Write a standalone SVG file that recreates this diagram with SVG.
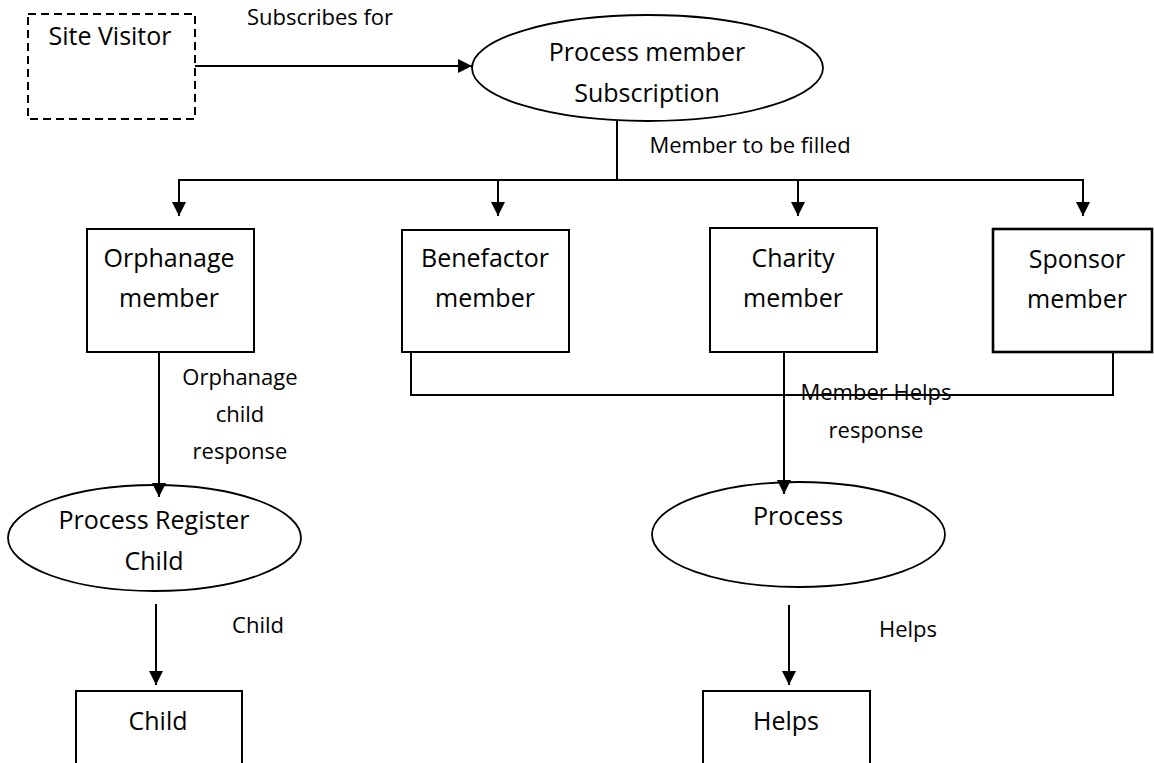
<svg xmlns="http://www.w3.org/2000/svg" width="1154" height="763" viewBox="0 0 1154 763">
<defs>
<style>
.box{fill:#fff;stroke:#000;stroke-width:2}
.dash{fill:#fff;stroke:#000;stroke-width:2;stroke-dasharray:8,5}
.ell{fill:#fff;stroke:#000;stroke-width:1.8}
.ln{fill:none;stroke:#000;stroke-width:2}
.nt{font-family:"Open Sans",sans-serif;font-size:25px;fill:#000;text-anchor:middle}
.lt{font-family:"Open Sans",sans-serif;font-size:22px;fill:#000;text-anchor:middle}
</style>
<marker id="ah" viewBox="0 0 14 14" refX="14" refY="7" markerWidth="14" markerHeight="14" markerUnits="userSpaceOnUse" orient="auto">
<path d="M0,0 L14,7 L0,14 z" fill="#000"/>
</marker>
</defs>
<rect width="1154" height="763" fill="#fff"/>
<g id="site-visitor">
<rect class="dash" x="28" y="14" width="167" height="105"/>
<text class="nt" x="110" y="45">Site Visitor</text>
</g>
<g id="process-member-subscription">
<ellipse class="ell" cx="647.5" cy="68" rx="175.5" ry="53"/>
<text class="nt" x="647" y="61">Process member</text>
<text class="nt" x="647" y="102">Subscription</text>
</g>
<g id="orphanage-member">
<rect class="box" x="87" y="229" width="167" height="123"/>
<text class="nt" x="169" y="267">Orphanage</text>
<text class="nt" x="169" y="307">member</text>
</g>
<g id="benefactor-member">
<rect class="box" x="402" y="230" width="167" height="122"/>
<text class="nt" x="485" y="267">Benefactor</text>
<text class="nt" x="485" y="307">member</text>
</g>
<g id="charity-member">
<rect class="box" x="710" y="228" width="167" height="124"/>
<text class="nt" x="793" y="267">Charity</text>
<text class="nt" x="793" y="307">member</text>
</g>
<g id="sponsor-member">
<rect class="box" x="993" y="229" width="159" height="123" style="stroke-width:2.6"/>
<text class="nt" x="1077" y="268">Sponsor</text>
<text class="nt" x="1077" y="308">member</text>
</g>
<g id="process-register-child">
<ellipse class="ell" cx="154.5" cy="538" rx="146.5" ry="53"/>
<text class="nt" x="154" y="529">Process Register</text>
<text class="nt" x="154" y="570">Child</text>
</g>
<g id="process">
<ellipse class="ell" cx="798.5" cy="534.5" rx="146.5" ry="52.5"/>
<text class="nt" x="798" y="525">Process</text>
</g>
<g id="child">
<rect class="box" x="76" y="691" width="166" height="100"/>
<text class="nt" x="158" y="730">Child</text>
</g>
<g id="helps">
<rect class="box" x="703" y="691" width="167" height="100"/>
<text class="nt" x="786" y="730">Helps</text>
</g>
<g id="connectors">
<line class="ln" x1="195" y1="66" x2="472" y2="66" marker-end="url(#ah)"/>
<line class="ln" x1="617" y1="121" x2="617" y2="180"/>
<line class="ln" x1="178" y1="180" x2="1084" y2="180"/>
<line class="ln" x1="179" y1="180" x2="179" y2="216" marker-end="url(#ah)"/>
<line class="ln" x1="498" y1="180" x2="498" y2="216" marker-end="url(#ah)"/>
<line class="ln" x1="798" y1="180" x2="798" y2="216" marker-end="url(#ah)"/>
<line class="ln" x1="1083" y1="180" x2="1083" y2="216" marker-end="url(#ah)"/>
<line class="ln" x1="159" y1="352" x2="159" y2="497" marker-end="url(#ah)"/>
<polyline class="ln" points="411,352 411,395 1113,395 1113,352"/>
<line class="ln" x1="784" y1="352" x2="784" y2="494" marker-end="url(#ah)"/>
<line class="ln" x1="156" y1="604" x2="156" y2="685" marker-end="url(#ah)"/>
<line class="ln" x1="789" y1="605" x2="789" y2="685" marker-end="url(#ah)"/>
<text class="lt" x="320" y="25">Subscribes for</text>
<text class="lt" x="750" y="153">Member to be filled</text>
<text class="lt" x="240" y="385">Orphanage</text>
<text class="lt" x="240" y="422">child</text>
<text class="lt" x="240" y="459">response</text>
<text class="lt" x="876" y="400">Member Helps</text>
<text class="lt" x="876" y="438">response</text>
<text class="lt" x="258" y="633">Child</text>
<text class="lt" x="908" y="637">Helps</text>
</g>
</svg>
